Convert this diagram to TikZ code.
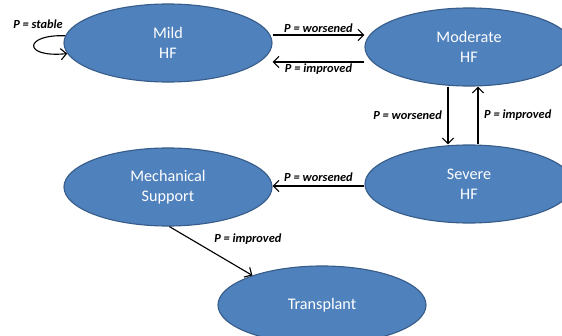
\documentclass[tikz,border=0pt]{standalone}
\usepackage{fontspec}
\setmainfont{Carlito}
\usetikzlibrary{shapes.geometric,arrows.meta}
\definecolor{hfblue}{RGB}{79,129,189}
\definecolor{hfedge}{RGB}{56,93,138}
\tikzset{
  state/.style={ellipse, draw=hfedge, line width=0.8pt, fill=hfblue, text=white,
    minimum width=5.2cm, minimum height=1.95cm, inner sep=0pt, align=center,
    font=\fontsize{11.5}{14}\selectfont},
  prob/.style={font=\fontsize{8.8}{10}\selectfont\bfseries\itshape, inner sep=1pt}
}
\begin{document}
\begin{tikzpicture}[x=0.025cm, y=-0.025cm]
        \useasboundingbox (0,0) rectangle (562,336);
        \clip (0,0) rectangle (562,336);
        \node[state] (mild) at (168,43) {Mild\\HF};
        \node[state] (moderate) at (469,47) {Moderate\\HF};
        \node[state] (severe) at (469,184) {Severe\\HF};
        \node[state] (mech) at (168,187) {Mechanical\\Support};
        \node[state] (transplant) at (322,305) {Transplant};
        % self loop
        \draw[->, >={Straight Barb[length=4pt]}, line width=0.8pt] (mild.176) .. controls (24,34) and (22,58) .. (mild.186);
        \node[prob] (stable) at (38,24) {P = stable};
        % horizontal transitions
        \draw[->, >={Straight Barb[length=4pt]}, line width=0.8pt] (mild.east |- 0,35) --node[prob, midway, above]{P = worsened} (moderate.west |- 0,35) ;
        \draw[->, >={Straight Barb[length=4pt]}, line width=0.8pt] (moderate.west |- 0,62) --node[prob, midway, below]{P = improved} (mild.east |- 0,62) ;
        % vertical transitions
        \draw[->, >={Straight Barb[length=4pt]}, line width=0.8pt] (moderate.south -| 448,0) --node[prob, midway, left, xshift=-3pt]{P = worsened} (severe.north -| 448,0) ;
        \draw[->, >={Straight Barb[length=4pt]}, line width=0.8pt] (severe.north -| 478,0) --node[prob, midway, right, xshift=3pt]{P = improved} (moderate.south -| 478,0) ;
        % towards support and transplant
        \draw[->, >={Straight Barb[length=4pt]}, line width=0.8pt] (severe.west |- 0,186) --node[prob, midway, above, yshift=2pt]{P = worsened} (mech.east |- 0,186) ;
        \draw[->, >={Straight Barb[length=4pt]}, line width=0.8pt] (mech.272) --node[prob, midway, above right, xshift=1pt, yshift=3pt]{P = improved} (transplant.157) ;
        \end{tikzpicture}
\end{document}
